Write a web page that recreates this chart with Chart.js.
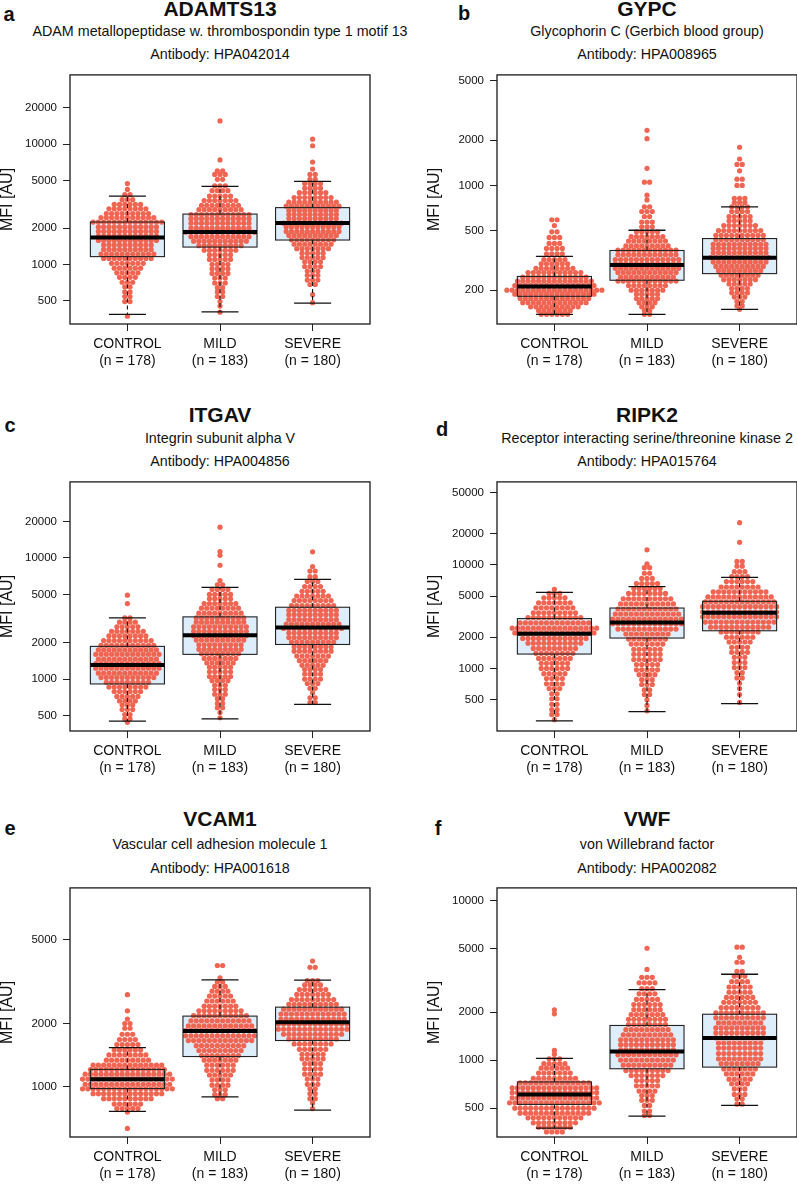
<!DOCTYPE html>
<html>
<head>
<meta charset="utf-8">
<script src="https://cdn.jsdelivr.net/npm/chart.js@4.4.1/dist/chart.umd.min.js"></script>
<style>
body { margin: 0; background: #fff; overflow: hidden; }
#page { position: relative; width: 797px; height: 1184px; overflow: hidden; font-family: 'Liberation Sans', Arial, sans-serif; color: #111; }
.txt { position: absolute; transform: translate(-50%, -50%); white-space: nowrap; }
.letter { font-weight: bold; font-size: 20px; }
.gene { font-weight: bold; font-size: 21px; }
.sub { font-size: 14.3px; }
canvas { position: absolute; }
</style>
</head>
<body>
<div id="page"></div>
<script>
const groups = ['CONTROL', 'MILD', 'SEVERE'];
const groupN = [178, 183, 180];

// box stats per group: [lower whisker, q1, median, q3, upper whisker]
// swarm rows per group: [value, number of dots in that row]

// a - ADAMTS13
const adamts13Ticks = [500, 1000, 2000, 5000, 10000, 20000];
const adamts13Box = [[384, 1160, 1675, 2250, 3700], [403, 1393, 1860, 2620, 4450], [475, 1594, 2208, 2965, 4900]];
const adamts13Control = [[4700,1],[4200,1],[3800,2],[3450,3],[3150,6],[2900,8],[2650,9],[2450,11],[2250,14],[2050,12],[1880,12],[1720,12],[1580,12],[1450,10],[1330,10],[1220,11],[1120,10],[1020,7],[930,6],[850,5],[780,4],[710,3],[650,2],[590,2],[540,2],[490,2],[370,1]];
const adamts13Mild = [[15600,1],[7400,1],[6000,2],[5600,3],[5100,2],[4500,3],[4100,4],[3700,5],[3400,7],[3100,8],[2850,9],[2600,12],[2400,12],[2200,12],[2000,12],[1850,14],[1700,12],[1560,11],[1430,9],[1310,7],[1200,5],[1100,5],[1000,4],[920,4],[840,4],[770,3],[700,3],[640,2],[590,2],[540,2],[490,1],[450,1],[400,1]];
const adamts13Severe = [[11000,1],[9700,1],[7100,1],[6200,1],[5600,2],[5100,2],[4700,4],[4300,4],[3950,6],[3600,8],[3300,10],[3050,11],[2800,10],[2600,10],[2400,10],[2200,12],[2050,11],[1880,11],[1740,10],[1600,9],[1470,8],[1350,7],[1240,5],[1140,5],[1050,4],[960,4],[880,3],[810,3],[740,3],[680,2],[560,1],[480,1]];

// b - GYPC
const gypcTicks = [200, 500, 1000, 2000, 5000];
const gypcBox = [[138, 182, 212, 247, 336], [138, 233, 294, 368, 502], [149, 258, 329, 442, 719]];
const gypcControl = [[590,2],[540,1],[490,2],[450,3],[410,3],[380,4],[350,4],[320,5],[300,6],[280,8],[262,11],[245,13],[230,15],[215,16],[200,19],[188,16],[176,14],[165,13],[155,10],[146,7],[138,6]];
const gypcMild = [[2330,1],[2050,1],[1300,1],[1050,2],[860,1],[800,1],[720,2],[670,3],[620,2],[570,3],[530,3],[490,5],[455,7],[425,8],[395,9],[370,12],[345,12],[320,13],[300,13],[280,13],[262,12],[245,11],[230,12],[215,8],[200,7],[188,5],[176,5],[165,4],[155,3],[146,2],[138,2]];
const gypcSevere = [[1796,1],[1500,1],[1380,2],[1250,1],[1100,2],[1000,2],[820,3],[770,3],[720,4],[670,4],[620,5],[580,5],[540,7],[500,9],[465,10],[435,10],[405,11],[380,11],[355,11],[330,12],[308,11],[288,10],[270,9],[252,8],[235,7],[220,5],[205,4],[192,4],[180,3],[168,2],[157,2],[149,1]];

// c - ITGAV
const itgavTicks = [500, 1000, 2000, 5000, 10000, 20000];
const itgavBox = [[450, 912, 1308, 1862, 3200], [470, 1600, 2305, 3262, 5710], [618, 1931, 2668, 3917, 6655]];
const itgavControl = [[4930,1],[4200,1],[3200,2],[2950,4],[2700,5],[2480,7],[2270,8],[2080,10],[1900,11],[1740,12],[1600,13],[1460,12],[1340,13],[1230,13],[1120,12],[1030,11],[940,9],[860,8],[790,6],[720,5],[660,4],[610,3],[560,3],[510,2],[470,2],[440,1]];
const itgavMild = [[17950,1],[11300,1],[10500,1],[8700,1],[6500,1],[6000,2],[5500,4],[5000,5],[4600,5],[4200,7],[3850,8],[3500,9],[3200,10],[2950,10],[2700,11],[2480,11],[2280,11],[2100,10],[1920,9],[1760,9],[1620,8],[1480,7],[1360,6],[1250,5],[1150,5],[1050,5],[970,4],[890,3],[820,3],[750,3],[690,2],[630,2],[580,2],[530,1],[480,1]];
const itgavSevere = [[11220,1],[8500,1],[7800,2],[7000,2],[6400,3],[5800,4],[5300,5],[4850,7],[4450,8],[4050,9],[3700,10],[3400,10],[3100,10],[2850,11],[2620,12],[2400,10],[2200,10],[2020,9],[1850,8],[1700,8],[1550,7],[1420,6],[1300,5],[1200,4],[1100,4],[1000,4],[920,3],[840,2],[770,1],[700,2],[640,2]];

// d - RIPK2
const ripk2Ticks = [500, 1000, 2000, 5000, 10000, 20000, 50000];
const ripk2Box = [[312, 1377, 2168, 3030, 5420], [383, 1965, 2782, 3830, 6165], [457, 2311, 3443, 4446, 7580]];
const ripk2Control = [[5800,1],[5300,3],[4800,5],[4300,7],[3850,8],[3450,9],[3100,11],[2750,14],[2450,17],[2200,16],[1950,13],[1750,11],[1560,9],[1400,8],[1250,7],[1120,6],[1000,6],[890,5],[800,4],[710,4],[640,3],[570,2],[510,2],[450,2],[400,2],[360,2],[320,1]];
const ripk2Mild = [[13970,1],[10200,1],[9400,2],[8300,2],[7400,3],[6600,5],[5900,6],[5300,8],[4700,10],[4200,11],[3750,12],[3350,13],[3000,14],[2700,14],[2400,12],[2150,9],[1920,8],[1720,7],[1530,6],[1370,6],[1220,6],[1090,5],[970,5],[870,4],[780,3],[700,3],[620,2],[560,2],[500,1],[440,1],[390,1]];
const ripk2Severe = [[25550,1],[16500,1],[10800,2],[9700,2],[8600,3],[7700,4],[6900,6],[6100,8],[5500,11],[4900,13],[4400,14],[3950,15],[3500,15],[3150,15],[2800,14],[2500,12],[2250,8],[2000,6],[1800,5],[1600,4],[1430,4],[1280,3],[1140,3],[1020,3],[910,2],[810,2],[720,1],[640,1],[560,1],[470,1]];

// e - VCAM1
const vcam1Ticks = [1000, 2000, 5000];
const vcam1Box = [[766, 983, 1088, 1212, 1539], [897, 1395, 1846, 2170, 3222], [777, 1662, 2029, 2393, 3213]];
const vcam1Control = [[2743,1],[2300,1],[2100,1],[2000,2],[1900,2],[1780,3],[1680,4],[1590,5],[1500,6],[1420,8],[1340,9],[1270,14],[1210,15],[1150,17],[1090,18],[1030,17],[980,18],[930,14],[880,10],[830,6],[790,5],[760,1],[636,1]];
const vcam1Mild = [[3773,2],[3300,1],[3150,2],[3000,3],[2850,4],[2700,5],[2560,6],[2420,7],[2300,9],[2180,11],[2060,12],[1950,13],[1850,14],[1750,14],[1660,13],[1570,10],[1490,9],[1410,8],[1340,7],[1270,6],[1200,6],[1140,5],[1080,4],[1020,4],[970,3],[920,3],[880,2]];
const vcam1Severe = [[3963,1],[3700,2],[3200,3],[3050,4],[2900,6],[2750,7],[2600,9],[2470,10],[2340,12],[2220,13],[2100,13],[1990,14],[1880,14],[1780,12],[1690,10],[1600,8],[1510,6],[1430,5],[1360,5],[1290,4],[1220,4],[1150,4],[1090,3],[1030,3],[980,2],[930,2],[880,2],[840,1],[790,1]];

// f - VWF
const vwfTicks = [500, 1000, 2000, 5000, 10000];
const vwfBox = [[375, 528, 610, 730, 1024], [446, 883, 1133, 1648, 2766], [521, 904, 1376, 1938, 3450]];
const vwfControl = [[2065,1],[1950,1],[1150,1],[1090,1],[1020,3],[950,5],[890,6],[830,7],[770,9],[720,14],[670,17],[625,17],[580,17],[540,18],[500,16],[465,14],[435,11],[405,9],[380,7],[355,4]];
const vwfMild = [[5017,1],[3700,1],[3300,3],[3050,4],[2800,3],[2600,4],[2400,5],[2230,6],[2070,6],[1930,7],[1800,8],[1670,8],[1550,9],[1440,10],[1340,11],[1250,11],[1160,11],[1080,12],[1000,11],[930,10],[860,9],[800,7],[745,5],[690,5],[640,4],[600,3],[560,3],[520,2],[480,2],[450,2]];
const vwfSevere = [[5100,2],[4400,1],[4100,2],[3600,2],[3350,3],[3100,4],[2870,5],[2660,5],[2470,6],[2300,7],[2130,8],[1980,10],[1840,10],[1710,9],[1590,10],[1480,10],[1380,10],[1280,9],[1190,9],[1100,9],[1020,9],[950,8],[880,7],[820,6],[760,5],[710,4],[660,3],[610,3],[570,2],[530,2]];

const panels = [
  { letter: 'a', gene: 'ADAMTS13', name: 'ADAM metallopeptidase w. thrombospondin type 1 motif 13', antibody: 'HPA042014',
    ticks: adamts13Ticks, box: adamts13Box, rows: [adamts13Control, adamts13Mild, adamts13Severe],
    yMin: 319, yMax: 37700, left: 70, top: 66, letterPos: [9, 14], textY: [9, 31, 54] },
  { letter: 'b', gene: 'GYPC', name: 'Glycophorin C (Gerbich blood group)', antibody: 'HPA008965',
    ticks: gypcTicks, box: gypcBox, rows: [gypcControl, gypcMild, gypcSevere],
    yMin: 119, yMax: 5458, left: 497, top: 66, letterPos: [464, 13], textY: [9, 31, 54] },
  { letter: 'c', gene: 'ITGAV', name: 'Integrin subunit alpha V', antibody: 'HPA004856',
    ticks: itgavTicks, box: itgavBox, rows: [itgavControl, itgavMild, itgavSevere],
    yMin: 373, yMax: 42400, left: 70, top: 473, letterPos: [10, 425], textY: [415, 437.5, 461] },
  { letter: 'd', gene: 'RIPK2', name: 'Receptor interacting serine/threonine kinase 2', antibody: 'HPA015764',
    ticks: ripk2Ticks, box: ripk2Box, rows: [ripk2Control, ripk2Mild, ripk2Severe],
    yMin: 249, yMax: 63200, left: 497, top: 473, letterPos: [442, 429], textY: [415, 437.5, 461] },
  { letter: 'e', gene: 'VCAM1', name: 'Vascular cell adhesion molecule 1', antibody: 'HPA001618',
    ticks: vcam1Ticks, box: vcam1Box, rows: [vcam1Control, vcam1Mild, vcam1Severe],
    yMin: 579, yMax: 8810, left: 70, top: 879, letterPos: [10, 828], textY: [819, 844, 868] },
  { letter: 'f', gene: 'VWF', name: 'von Willebrand factor', antibody: 'HPA002082',
    ticks: vwfTicks, box: vwfBox, rows: [vwfControl, vwfMild, vwfSevere],
    yMin: 330, yMax: 11980, left: 497, top: 879, letterPos: [438, 828], textY: [819, 844, 868] }
];

const dotColor = 'rgb(240,100,82)';
const boxFill = 'rgb(221,237,250)';
const fontFamily = "'Liberation Sans', Arial, sans-serif";
const plotW = 300, plotH = 258, axisW = 72, axisH = 56, pad = 4;
const dotStep = 0.057; // horizontal gap between swarm dots, in category units

const page = document.getElementById('page');

function addText(cls, text, x, y) {
    const d = document.createElement('div');
    d.className = 'txt ' + cls;
    d.textContent = text;
    d.style.left = x + 'px';
    d.style.top = y + 'px';
    page.appendChild(d);
}

function swarmPoints(rows) {
    const pts = [];
    rows.forEach((groupRows, i) => {
        groupRows.forEach(([v, c]) => {
            for (let k = 0; k < c; k++) {
                pts.push({ x: i + (k - (c - 1) / 2) * dotStep, y: v });
            }
        });
    });
    return pts;
}

function makeBoxPlugin(stats) {
    return {
        id: 'boxPlot',
        beforeDatasetsDraw(chart) {
            const { ctx, scales: { x, y } } = chart;
            ctx.save();
            ctx.fillStyle = boxFill;
            stats.forEach((s, i) => {
                const x0 = x.getPixelForValue(i - 0.4), x1 = x.getPixelForValue(i + 0.4);
                const y0 = y.getPixelForValue(s[3]), y1 = y.getPixelForValue(s[1]);
                ctx.fillRect(x0, y0, x1 - x0, y1 - y0);
            });
            ctx.restore();
        },
        afterDatasetsDraw(chart) {
            const { ctx, chartArea, scales: { x, y } } = chart;
            ctx.save();
            stats.forEach((s, i) => {
                const xc = x.getPixelForValue(i);
                const x0 = x.getPixelForValue(i - 0.4), x1 = x.getPixelForValue(i + 0.4);
                const c0 = x.getPixelForValue(i - 0.2), c1 = x.getPixelForValue(i + 0.2);
                const yLo = y.getPixelForValue(s[0]), yQ1 = y.getPixelForValue(s[1]);
                const yMed = y.getPixelForValue(s[2]), yQ3 = y.getPixelForValue(s[3]);
                const yHi = y.getPixelForValue(s[4]);
                // whiskers
                ctx.strokeStyle = '#111';
                ctx.lineWidth = 1.1;
                ctx.setLineDash([4, 3]);
                ctx.beginPath();
                ctx.moveTo(xc, yQ3); ctx.lineTo(xc, yHi);
                ctx.moveTo(xc, yQ1); ctx.lineTo(xc, yLo);
                ctx.stroke();
                ctx.setLineDash([]);
                ctx.lineWidth = 1.3;
                ctx.beginPath();
                ctx.moveTo(c0, yHi); ctx.lineTo(c1, yHi);
                ctx.moveTo(c0, yLo); ctx.lineTo(c1, yLo);
                ctx.stroke();
                // box outline
                ctx.lineWidth = 1.1;
                ctx.strokeStyle = '#222';
                ctx.strokeRect(x0, yQ3, x1 - x0, yQ1 - yQ3);
                // median
                ctx.lineWidth = 4;
                ctx.strokeStyle = '#000';
                ctx.beginPath();
                ctx.moveTo(x0, yMed); ctx.lineTo(x1, yMed);
                ctx.stroke();
            });
            // frame
            ctx.lineWidth = 1.3;
            ctx.strokeStyle = '#1a1a1a';
            ctx.strokeRect(chartArea.left, chartArea.top, chartArea.right - chartArea.left, chartArea.bottom - chartArea.top);
            ctx.restore();
        }
    };
}

panels.forEach(p => {
    const cx = p.left + plotW / 2;
    addText('letter', p.letter, p.letterPos[0], p.letterPos[1]);
    addText('gene', p.gene, cx, p.textY[0]);
    addText('sub', p.name, cx, p.textY[1]);
    addText('sub', 'Antibody: ' + p.antibody, cx, p.textY[2]);

    const canvas = document.createElement('canvas');
    canvas.width = axisW + plotW + pad;
    canvas.height = pad + plotH + axisH;
    canvas.style.left = (p.left - axisW) + 'px';
    canvas.style.top = (p.top - pad) + 'px';
    page.appendChild(canvas);

    const tickGrid = { display: true, drawOnChartArea: false, drawTicks: true, tickLength: 7, color: '#222', lineWidth: 1 };

    new Chart(canvas, {
        type: 'scatter',
        data: {
            datasets: [{
                data: swarmPoints(p.rows),
                backgroundColor: dotColor,
                borderWidth: 0,
                pointRadius: 2.6,
                pointHoverRadius: 2.6
            }]
        },
        options: {
            responsive: false,
            animation: false,
            events: [],
            layout: { padding: { top: pad, right: pad, left: 0, bottom: 0 } },
            plugins: { legend: { display: false }, tooltip: { enabled: false } },
            scales: {
                x: {
                    type: 'linear',
                    min: -0.62,
                    max: 2.62,
                    afterFit: s => { s.height = axisH; },
                    afterBuildTicks: s => { s.ticks = [0, 1, 2].map(v => ({ value: v })); },
                    grid: tickGrid,
                    border: { display: false },
                    ticks: {
                        padding: 5, color: '#111', maxRotation: 0, autoSkip: false,
                        font: { size: 14, family: fontFamily },
                        callback: v => [groups[v], '(n = ' + groupN[v] + ')']
                    }
                },
                y: {
                    type: 'logarithmic',
                    min: p.yMin,
                    max: p.yMax,
                    afterFit: s => { s.width = axisW; },
                    afterBuildTicks: s => { s.ticks = p.ticks.map(v => ({ value: v })); },
                    grid: tickGrid,
                    border: { display: false },
                    title: { display: true, text: 'MFI [AU]', color: '#111', padding: 0, font: { size: 16, family: fontFamily } },
                    ticks: {
                        padding: 6, color: '#111', autoSkip: false,
                        font: { size: 11.5, family: fontFamily },
                        major: { enabled: false },
                        callback: v => String(v)
                    }
                }
            }
        },
        plugins: [makeBoxPlugin(p.box)]
    });
});
</script>
</body>
</html>
